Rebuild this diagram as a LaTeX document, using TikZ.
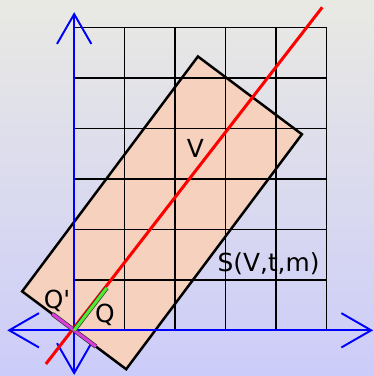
\documentclass[tikz,border=0pt]{standalone}
\usepackage{fontspec}
\newfontfamily\etiq{DejaVu Sans}
\usepackage{tikz}
\usetikzlibrary{arrows.meta, positioning}
\definecolor{fondhaut}{RGB}{233,233,227}
\definecolor{fondbas}{RGB}{204,204,250}
\definecolor{peche}{RGB}{245,209,190}
\definecolor{vertQ}{RGB}{80,235,50}
\definecolor{roseQ}{RGB}{220,60,220}
\tikzset{
	axe/.style={
		{Straight Barb[length=5.9mm, width=6.8mm]}-{Straight Barb[length=5.9mm, width=6.8mm]},
		blue,
		line width=1.1pt
	},
	grille/.style={
		black,
		line width=0.8pt
	},
	zone/.style={
		draw=black,
		fill=peche,
		line width=1.4pt
	},
	droite/.style={
		red,
		line width=1.7pt
	},
	vecteur/.style={
		draw=black!80,
		double=#1,
		double distance=1.7pt,
		line width=0.4pt
	},
	etiquette/.style={
		font=\etiq\fontsize{14}{16}\selectfont,
		anchor=base,
		inner sep=0pt
	}
}

\begin{document}
\begin{tikzpicture}

		% Fond
		\useasboundingbox (-1.469,-0.905) rectangle (5.937,6.541);
		\shade[top color=fondhaut, bottom color=fondbas] (-1.469,-0.905) rectangle (5.937,6.541);

		% Rectangle
		\draw[zone, rotate=-36.8] (-1.286,0) rectangle (1.286,5.81);

		% Grille
		\draw[grille] (0,0) grid (5,6);

		% Axes
		\coordinate (O) at (0,0);
		\draw[axe] (-1.326,0) -- (5.92,0);
		\draw[axe] (0,-0.885) -- (0,6.30);

		% Droite
		\draw[droite] (-0.56,-0.667) -- (4.913,6.396);

		% Vecteurs en O
		\draw[vecteur=roseQ] (143.2:0.54) -- (-36.8:0.54);
		\draw[vecteur=vertQ] (O) -- (52.5:1.06);

		% Textes
		\node[etiquette] (V) at (2.40,3.43) {V};
		\node[etiquette] (S) at (3.85,1.17) {S(V,t,m)};
		\node[etiquette] (Qp) at (-0.34,0.44) {Q'};
		\node[etiquette] (Q) at (0.61,0.15) {Q};

	\end{tikzpicture}
\end{document}
